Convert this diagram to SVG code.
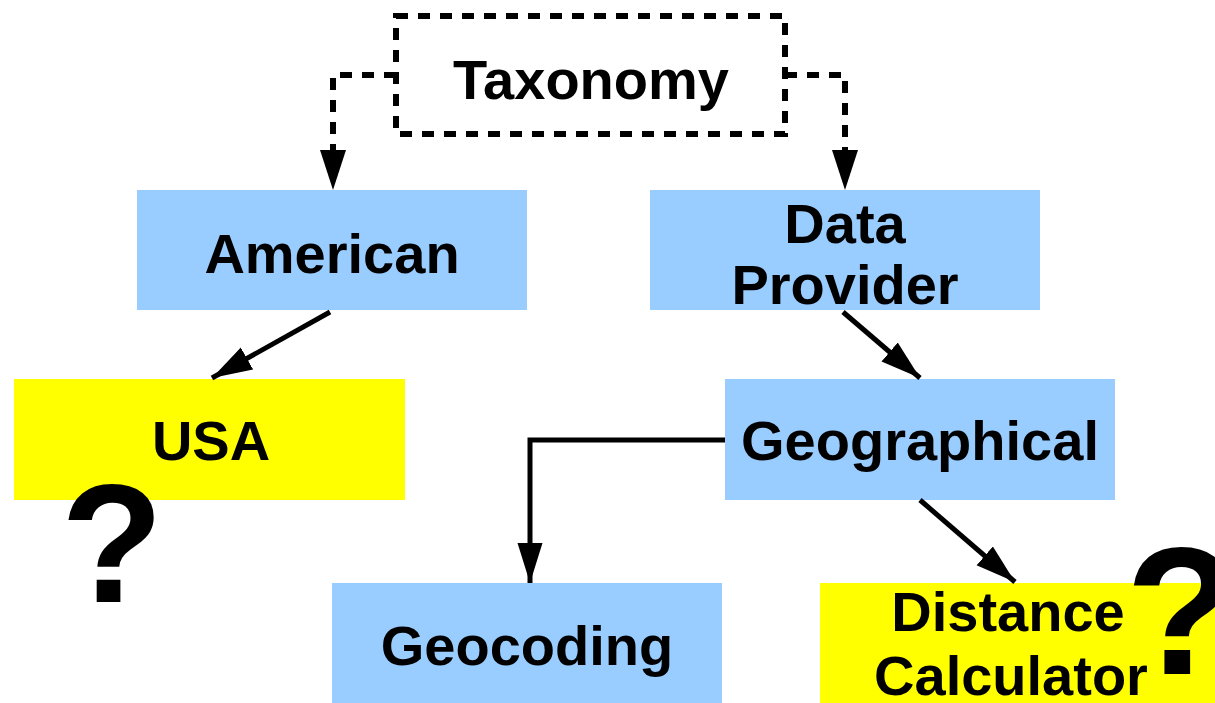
<svg xmlns="http://www.w3.org/2000/svg" width="1215" height="703" viewBox="0 0 1215 703">
<style>
.blue{fill:#99CCFF}
.yellow{fill:#FFFF00}
.t{font-family:"Liberation Sans",Arial,sans-serif;font-weight:bold;font-size:56px;fill:#000;text-anchor:middle}
.q{font-family:"Liberation Sans",Arial,sans-serif;font-weight:bold;fill:#000;text-anchor:middle}
.c{stroke:#000;stroke-width:5;fill:none}
.d{stroke:#000;stroke-width:6;fill:none;stroke-dasharray:12 10}
</style>
<defs>
<marker id="ah" viewBox="0 0 16 10" refX="16" refY="5" markerWidth="8" markerHeight="5.4" markerUnits="strokeWidth" orient="auto">
<path d="M0,0 L16,5 L0,10 Z" fill="#000"/>
</marker>
</defs>
<rect width="1215" height="703" fill="#fff"/>
<g id="taxonomy">
<rect x="396" y="16" width="389" height="118" fill="#fff" class="d"/>
<text class="t" x="591" y="99">Taxonomy</text>
</g>
<g id="american">
<rect class="blue" x="137" y="190" width="390" height="120"/>
<text class="t" x="332" y="273">American</text>
</g>
<g id="dataprovider">
<rect class="blue" x="650" y="190" width="390" height="120"/>
<text class="t" x="845" y="243">Data</text>
<text class="t" x="845" y="304">Provider</text>
</g>
<g id="usa">
<rect class="yellow" x="14" y="379" width="391" height="121"/>
<text class="t" x="211" y="460">USA</text>
</g>
<g id="geographical">
<rect class="blue" x="725" y="379" width="390" height="121"/>
<text class="t" x="920" y="460">Geographical</text>
</g>
<g id="geocoding">
<rect class="blue" x="332" y="583" width="390" height="120"/>
<text class="t" x="527" y="665">Geocoding</text>
</g>
<g id="distance">
<rect class="yellow" x="820" y="583" width="395" height="120"/>
<text class="t" x="1008" y="631">Distance</text>
<text class="t" x="1011" y="695">Calculator</text>
</g>
<g id="question-marks">
<text class="q" x="112" y="602" font-size="168">?</text>
<text class="q" x="1181" y="674" font-size="182">?</text>
</g>
<g id="connectors">
<polyline class="d" points="396,75 333,75 333,155"/>
<path d="M320,150 L346,150 L333,190 Z" fill="#000"/>
<polyline class="d" points="785,75 845,75 845,155"/>
<path d="M832,150 L858,150 L845,190 Z" fill="#000"/>
<line class="c" x1="330" y1="312" x2="212" y2="378" marker-end="url(#ah)"/>
<line class="c" x1="843" y1="312" x2="920" y2="378" marker-end="url(#ah)"/>
<polyline class="c" points="725,440 530,440 530,583" marker-end="url(#ah)"/>
<line class="c" x1="920" y1="500" x2="1015" y2="582" marker-end="url(#ah)"/>
</g>
</svg>
